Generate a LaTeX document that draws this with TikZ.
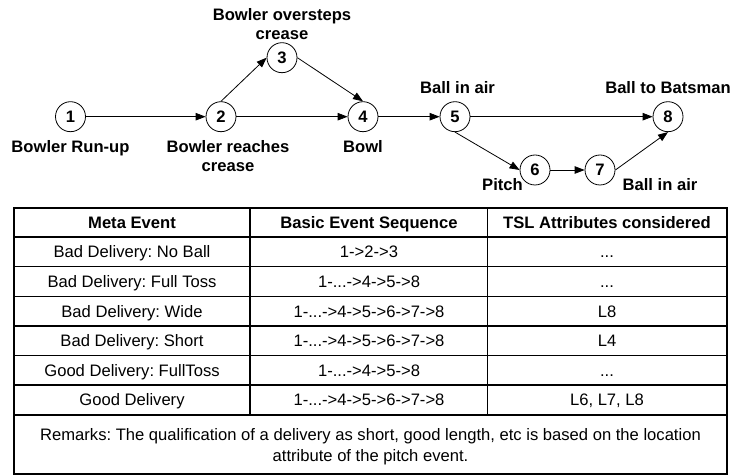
\documentclass[tikz,border=0pt]{standalone}
\usepackage{fontspec}
\setmainfont{Liberation Sans}
\usetikzlibrary{arrows.meta}
\frenchspacing

\begin{document}
\begin{tikzpicture}[
  x=1bp, y=-1bp,
  event/.style={draw, circle, minimum size=30bp, inner sep=0pt, line width=.8bp, font=\fontsize{16.6bp}{19bp}\selectfont\bfseries},
  lbl/.style={anchor=north, inner sep=0pt, align=center, font=\fontsize{16.6bp}{19bp}\selectfont\bfseries},
  arrow/.style={-{Triangle[length=10bp,width=7.5bp]}, line width=.8bp},
  cell/.style={inner sep=0pt, text height=11.9bp, text depth=0pt, font=\fontsize{16.6bp}{19bp}\selectfont},
  head/.style={cell, font=\fontsize{16.6bp}{19bp}\selectfont\bfseries},
  grid/.style={line width=1.2bp}
]
\useasboundingbox (0,0) rectangle (732,475);

% event graph
\node[event] (e1) at (70.5,116.7) {1};
\node[event] (e2) at (221,116.7) {2};
\node[event] (e3) at (282,57.7) {3};
\node[event] (e4) at (363,116.7) {4};
\node[event] (e5) at (455,116.7) {5};
\node[event] (e6) at (535,170) {6};
\node[event] (e7) at (600,170) {7};
\node[event] (e8) at (668,116.7) {8};

\node[lbl] (l1) at (70.5,139.8) {Bowler Run-up};
\node[lbl] (l2) at (228,139.8) {Bowler reaches\\crease};
\node[lbl] (l3) at (282,8.5) {Bowler oversteps\\crease};
\node[lbl] (l4) at (363,139.8) {Bowl};
\node[lbl] (l5) at (457.5,81) {Ball in air};
\node[lbl] (l6) at (502.5,178.3) {Pitch};
\node[lbl] (l7) at (660,178.3) {Ball in air};
\node[lbl] (l8) at (668,81) {Ball to Batsman};

\draw[arrow] (e1) -- (e2);
\draw[arrow] (e2) -- (e4);
\draw[arrow] (e2.north) -- (e3.west);
\draw[arrow] (e3.east) -- (e4.north);
\draw[arrow] (e4) -- (e5);
\draw[arrow] (e5) -- (e8);
\draw[arrow] (e5.south) -- (e6.west);
\draw[arrow] (e6) -- (e7);
\draw[arrow] (e7.east) -- (e8.south);

% table
\draw[grid] (14,208) rectangle (727,474);
\foreach \y in {237,266.7,296.5,326,355.6,385,415}
  \draw[grid] (14,\y) -- (727,\y);
\draw[grid] (250,208) -- (250,415);
\draw[grid] (487.5,208) -- (487.5,415);

\node[head] (h1) at (132,222.5) {Meta Event};
\node[head] (h2) at (369,222.5) {Basic Event Sequence};
\node[head] (h3) at (607,222.5) {TSL Attributes considered};

\node[cell] (r1a) at (132,252) {Bad Delivery: No Ball};
\node[cell] (r1b) at (369,252) {1->2->3};
\node[cell] (r1c) at (607,252) {...};

\node[cell] (r2a) at (132,281.6) {Bad Delivery: Full Toss};
\node[cell] (r2b) at (369,281.6) {1-...->4->5->8};
\node[cell] (r2c) at (607,281.6) {...};

\node[cell] (r3a) at (132,311.2) {Bad Delivery: Wide};
\node[cell] (r3b) at (369,311.2) {1-...->4->5->6->7->8};
\node[cell] (r3c) at (607,311.2) {L8};

\node[cell] (r4a) at (132,340.8) {Bad Delivery: Short};
\node[cell] (r4b) at (369,340.8) {1-...->4->5->6->7->8};
\node[cell] (r4c) at (607,340.8) {L4};

\node[cell] (r5a) at (132,370.3) {Good Delivery: FullToss};
\node[cell] (r5b) at (369,370.3) {1-...->4->5->8};
\node[cell] (r5c) at (607,370.3) {...};

\node[cell] (r6a) at (132,400) {Good Delivery};
\node[cell] (r6b) at (369,400) {1-...->4->5->6->7->8};
\node[cell] (r6c) at (607,400) {L6, L7, L8};

\node[anchor=north, inner sep=0pt, align=center, font=\fontsize{16.6bp}{21bp}\selectfont] (rem) at (370.5,428.3)
  {Remarks: The qualification of a delivery as short, good length, etc is based on the location\\attribute of the pitch event.};
\end{tikzpicture}
\end{document}
